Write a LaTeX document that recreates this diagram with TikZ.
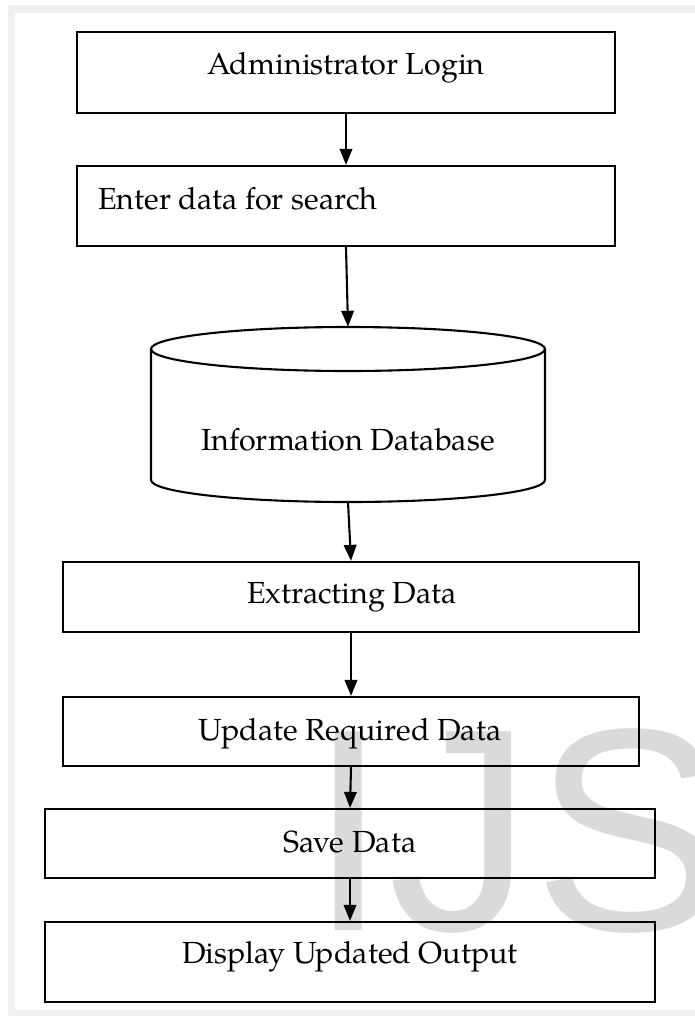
\documentclass[tikz,border=0pt]{standalone}
\usepackage{fontspec}
\setmainfont{TeX Gyre Pagella}
\newfontfamily\wmfont{Liberation Sans}
\usetikzlibrary{arrows.meta}
\definecolor{framegray}{HTML}{F0F0F0}
\definecolor{wmgray}{HTML}{DADADA}
\begin{document}
\begin{tikzpicture}[x=1pt,y=-1pt,
  boxnode/.style={draw=black, line width=2.2pt, rectangle, inner sep=0pt},
  lbl/.style={inner sep=0pt, font=\fontsize{30.5}{36}\selectfont, anchor=base},
  arr/.style={line width=2.1pt, -{Triangle[length=16pt,width=12.5pt]}},
  cyl/.style={line width=2.1pt, draw=black}]
\useasboundingbox (0,0) rectangle (695,1019);
\fill[white] (0,0) rectangle (695,1019);
\fill[framegray] (8,5) rectangle (695,1016);
\fill[white] (15,13) rectangle (695,1010);
% watermark
\node[inner sep=0pt, anchor=base west, text=wmgray, font=\wmfont\fontsize{289}{289}\selectfont] (wmk) at (308,930) {IJS};
% boxes
\node[boxnode, minimum width=538pt, minimum height=81pt] (b1) at (346,72.5) {};
\node[boxnode, minimum width=538pt, minimum height=80pt] (b2) at (346,206) {};
\node[inner sep=0pt, minimum width=394pt, minimum height=175pt] (db) at (348,414.5) {};
\node[boxnode, minimum width=576pt, minimum height=70pt] (b4) at (351,597) {};
\node[boxnode, minimum width=576pt, minimum height=69pt] (b5) at (351,731.5) {};
\node[boxnode, minimum width=610pt, minimum height=69pt] (b6) at (350,843.5) {};
\node[boxnode, minimum width=610pt, minimum height=80pt] (b7) at (350,962) {};
% cylinder
\draw[cyl] (348,349) ellipse [x radius=197, y radius=22];
\draw[cyl] (151,349) -- (151,480)
  .. controls (151,492.15) and (239.2,502) .. (348,502)
  .. controls (456.8,502) and (545,492.15) .. (545,480) -- (545,349);
% labels
\node[lbl] (t1) at (346,75) {Administrator Login};
\node[lbl, anchor=base west] (t2) at (98,209) {Enter data for search};
\node[lbl] (t3) at (348,450) {Information Database};
\node[lbl] (t4) at (352,603) {Extracting Data};
\node[lbl] (t5) at (350,740) {Update Required Data};
\node[lbl] (t6) at (350,852) {Save Data};
\node[lbl] (t7) at (350,963) {Display Updated Output};
% arrows
\draw[arr] (b1.south) -- (b2.north);
\draw[arr] (b2.south) -- (db.north);
\draw[arr] (db.south) -- (b4.north);
\draw[arr] (b4.south) -- (b5.north);
\draw[arr] (b5.south) -- (b6.north);
\draw[arr] (b6.south) -- (b7.north);
\end{tikzpicture}
\end{document}
